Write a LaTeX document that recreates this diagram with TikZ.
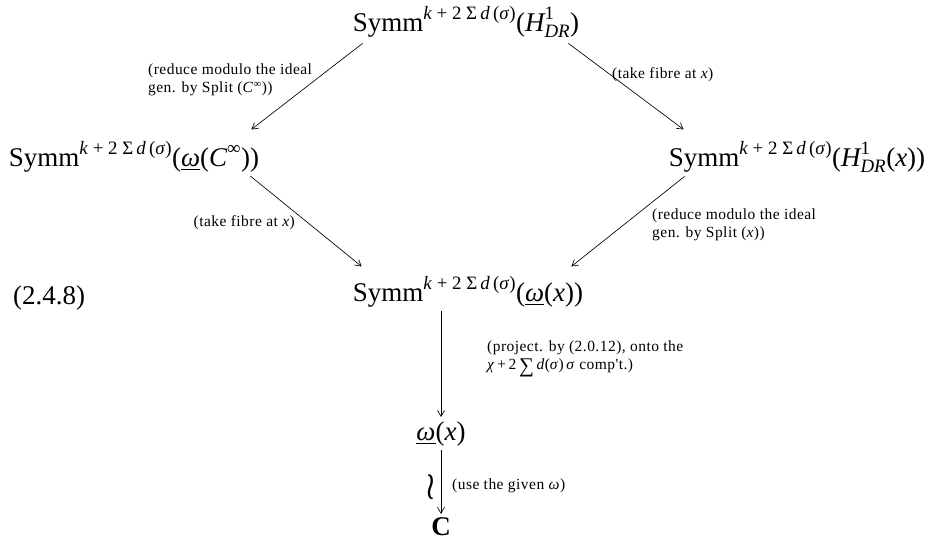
\documentclass[tikz,border=0pt]{standalone}
\usepackage{amsmath}
\usepackage{graphicx}
\usepackage{fontspec}
\setmainfont{Liberation Serif}
\newfontfamily\labfont[LetterSpace=3]{Liberation Serif}
\usetikzlibrary{arrows.meta,calc}
\newcommand{\I}[1]{\textit{#1}}
\newcommand{\SY}{\text{Symm}^{\text{\I{k} + 2 Σ\,\I{d}\,(\I{σ})}}}
\tikzset{
  obj/.style={inner sep=1pt, anchor=base, font=\fontsize{27}{30}\selectfont},
  lab/.style={inner sep=0pt, align=left, font=\labfont\fontsize{15.5}{17.5}\selectfont},
  ar/.style={-{Straight Barb[length=6pt,width=7pt]}, line width=0.65pt},
}
\begin{document}
\begin{tikzpicture}[x=1pt,y=-1pt]
\useasboundingbox (0,0) rectangle (926,544);
\node[obj] (top) at (466,31) {$\SY\text{(}\I{H}^{\text{1}}_{\text{\I{DR}}}\text{)}$};
\node[obj] (left) at (134,166) {$\SY\text{(\underline{\I{ω}}(}\I{C}^{\text{∞}}\text{))}$};
\node[obj] (right) at (797,166) {$\SY\text{(}\I{H}^{\text{1}}_{\text{\I{DR}}}\text{(\I{x}))}$};
\node[obj] (mid) at (468,301) {$\SY\text{(\underline{\I{ω}}(\I{x}))}$};
\node[obj, anchor=base west] (eqn) at (12,304) {(2.4.8)};
\node[obj] (om) at (441,440) {\underline{\I{ω}}(\I{x})};
\node[obj] (C) at (441,535) {\textbf{C}};

\draw[ar] ([xshift=11pt,yshift=-5pt]top.south west) -- ([xshift=-9pt,yshift=11pt]left.north east);
\draw[ar] ([xshift=-12pt,yshift=-5pt]top.south east) -- ([xshift=16pt,yshift=11pt]right.north west);
\draw[ar] ([xshift=-10pt,yshift=-3pt]left.south east) -- ([xshift=10pt,yshift=9pt]mid.north west);
\draw[ar] ([xshift=17pt,yshift=-3pt]right.south west) -- ([xshift=-13pt,yshift=9pt]mid.north east);
\draw[ar] ([yshift=-3pt]mid.south -| om) -- ([yshift=3pt]om.north);
\draw[ar] ([yshift=-3pt]om.south) -- ([yshift=2pt]C.north);

\node[lab, anchor=west] (l1) at (148,80) {(reduce modulo the ideal\\gen. by Split (\I{C}\textsuperscript{∞}))};
\node[lab, anchor=west] (l2) at (612,75) {(take fibre at \I{x})};
\node[lab, anchor=east] (l3) at (295,223) {(take fibre at \I{x})};
\node[lab, anchor=west] (l4) at (652,225) {(reduce modulo the ideal\\gen. by Split (\I{x}))};
\node[lab, anchor=west] (l5) at (487,359) {(project. by (2.0.12), onto the\\\I{χ}\,+\,2\,\raisebox{-0.2em}{\scalebox{1.35}{∑}}\,\I{d}(\I{σ})\,\I{σ} comp't.)};
\node[lab, anchor=west] (l6) at (452,486) {(use the given \I{ω})};
\node[inner sep=0pt, font=\fontsize{26}{26}\selectfont] (wr) at (431,487) {\scalebox{1.1}[1.5]{$\boldsymbol{\wr}$}};
\end{tikzpicture}
\end{document}
